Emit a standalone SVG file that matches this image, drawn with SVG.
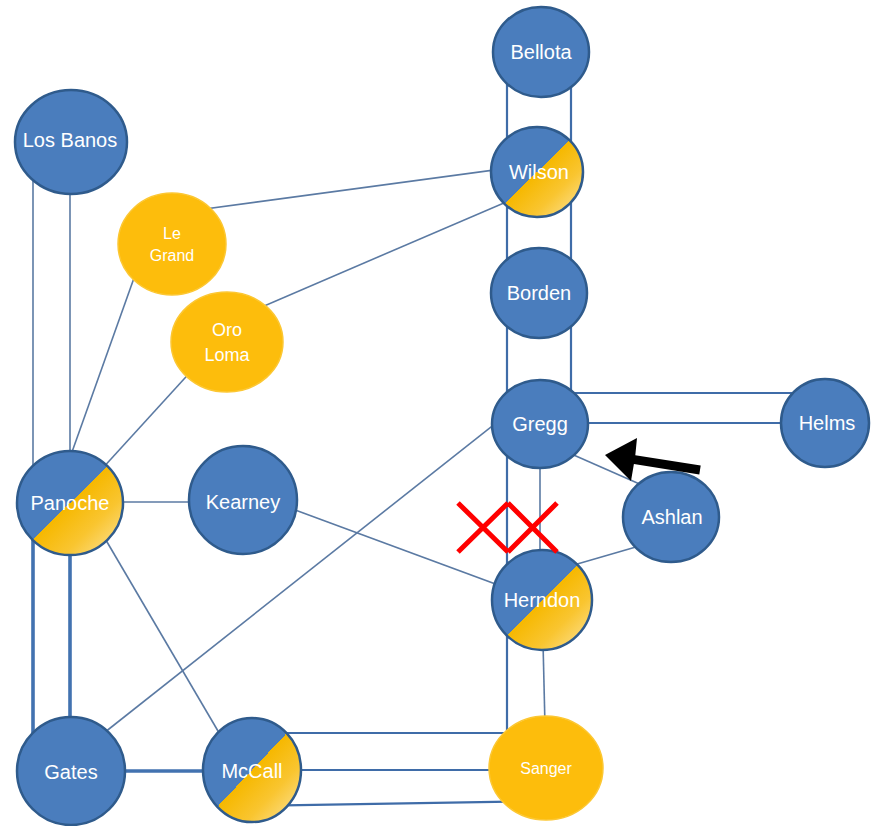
<svg xmlns="http://www.w3.org/2000/svg" width="871" height="826" viewBox="0 0 871 826">
  <style>
    .bg { fill: #ffffff; }
    .edge { fill: none; stroke: #5b7aa3; stroke-width: 1.6; }
    .rail { fill: none; stroke: #3f6ca8; stroke-width: 2.2; }
    .trunk { fill: none; stroke: #4272b0; stroke-width: 3.6; }
    .blue { fill: #4a7dbd; stroke: #2f5b8c; stroke-width: 2.5; }
    .split { fill: url(#half); stroke: #2f5b8c; stroke-width: 2.5; }
    .gold { fill: #fdbd0c; stroke: #fcc733; stroke-width: 1.5; }
    .lbl { fill: #ffffff; font-family: "Liberation Sans", Arial, sans-serif; font-size: 20px; text-anchor: middle; }
    .sm { font-size: 16px; }
    .md { font-size: 18px; }
    .cross { fill: none; stroke: #ff0000; stroke-width: 5; stroke-linecap: butt; }
  </style>
  <defs>
    <!-- blue upper-left half, yellow lower-right half -->
    <linearGradient id="half" x1="0" y1="0" x2="1" y2="1">
      <stop offset="0" stop-color="#4a7dbd"/>
      <stop offset="0.5" stop-color="#4a7dbd"/>
      <stop offset="0.5" stop-color="#f6b800"/>
      <stop offset="0.72" stop-color="#f9c530"/>
      <stop offset="1" stop-color="#fde6a2"/>
    </linearGradient>
  </defs>

  <rect class="bg" x="0" y="0" width="871" height="826"/>

  <g id="connectors">
    <!-- long rails along the eastern column -->
    <polyline class="rail" points="507,52 507,733 252,733"/>
    <polyline class="rail" points="571,52 571,393 825,393"/>
    <!-- heavy trunks on the west side -->
    <line class="trunk" x1="33" y1="503" x2="33" y2="771"/>
    <line class="trunk" x1="70" y1="503" x2="70" y2="771"/>
    <line class="trunk" x1="71" y1="771" x2="252" y2="771"/>
    <!-- Los Banos - Panoche -->
    <line class="edge" x1="33" y1="142" x2="33" y2="503"/>
    <line class="edge" x1="70" y1="142" x2="70" y2="503"/>
    <!-- Panoche links -->
    <line class="edge" x1="144" y1="250" x2="62" y2="480"/>
    <line class="edge" x1="90" y1="482" x2="205" y2="356"/>
    <line class="edge" x1="70" y1="502" x2="243" y2="502"/>
    <line class="edge" x1="100" y1="530" x2="235" y2="760"/>
    <!-- Wilson links -->
    <line class="edge" x1="190" y1="211" x2="520" y2="166.5"/>
    <line class="edge" x1="250" y1="312" x2="520" y2="196"/>
    <!-- Kearney - Herndon -->
    <line class="edge" x1="260" y1="497" x2="520" y2="593"/>
    <!-- Gates - Gregg -->
    <line class="edge" x1="90" y1="744" x2="520" y2="404"/>
    <!-- Gregg links -->
    <line class="rail" x1="540" y1="423" x2="825" y2="423"/>
    <line class="edge" x1="540" y1="424" x2="540" y2="600"/>
    <line class="edge" x1="560" y1="449" x2="660" y2="493"/>
    <!-- Ashlan - Herndon -->
    <line class="edge" x1="560" y1="569" x2="660" y2="540"/>
    <!-- Herndon - Sanger -->
    <line class="edge" x1="542" y1="600" x2="546" y2="768"/>
    <!-- McCall - Sanger -->
    <line class="rail" x1="252" y1="770" x2="546" y2="770"/>
    <line class="rail" x1="252" y1="806" x2="546" y2="801"/>
  </g>

  <g id="bellota"><ellipse class="blue" cx="541" cy="52" rx="48" ry="45"/><text class="lbl" x="541" y="59">Bellota</text></g>
  <g id="wilson"><ellipse class="split" cx="537" cy="172" rx="46" ry="45"/><text class="lbl" x="539" y="179">Wilson</text></g>
  <g id="borden"><ellipse class="blue" cx="539" cy="293" rx="48" ry="45"/><text class="lbl" x="539" y="300">Borden</text></g>
  <g id="gregg"><ellipse class="blue" cx="540" cy="424" rx="48" ry="44"/><text class="lbl" x="540" y="431">Gregg</text></g>
  <g id="helms"><ellipse class="blue" cx="825" cy="423" rx="44" ry="44"/><text class="lbl" x="827" y="430">Helms</text></g>
  <g id="ashlan"><ellipse class="blue" cx="671" cy="517" rx="48" ry="45"/><text class="lbl" x="672" y="524">Ashlan</text></g>
  <g id="herndon"><ellipse class="split" cx="542" cy="600" rx="50" ry="50"/><text class="lbl" x="542" y="607">Herndon</text></g>
  <g id="sanger"><ellipse class="gold" cx="546" cy="768" rx="57" ry="52"/><text class="lbl sm" x="546" y="774">Sanger</text></g>
  <g id="mccall"><ellipse class="split" cx="252" cy="770" rx="49" ry="52"/><text class="lbl" x="252" y="778">McCall</text></g>
  <g id="gates"><ellipse class="blue" cx="71" cy="771" rx="54" ry="54"/><text class="lbl" x="71" y="779">Gates</text></g>
  <g id="panoche"><ellipse class="split" cx="70" cy="503" rx="53" ry="52"/><text class="lbl" x="70" y="510">Panoche</text></g>
  <g id="kearney"><ellipse class="blue" cx="243" cy="500" rx="54" ry="54"/><text class="lbl" x="243" y="509">Kearney</text></g>
  <g id="los-banos"><ellipse class="blue" cx="71" cy="142" rx="56" ry="52"/><text class="lbl" x="70" y="147">Los Banos</text></g>
  <g id="le-grand"><ellipse class="gold" cx="172" cy="244" rx="54" ry="51"/><text class="lbl sm" x="172" y="239">Le</text><text class="lbl sm" x="172" y="261">Grand</text></g>
  <g id="oro-loma"><ellipse class="gold" cx="227" cy="342" rx="56" ry="50"/><text class="lbl md" x="227" y="336">Oro</text><text class="lbl md" x="227" y="361">Loma</text></g>

  <!-- cut marks on the Gregg - Herndon links -->
  <g id="cuts">
    <path class="cross" d="M458,503 L508,552 M458,552 L508,503 M508,503 L557,552 M508,552 L557,503"/>
  </g>

  <!-- pointer toward Gregg -->
  <g id="pointer">
    <polygon fill="#000000" points="605,455 637,438 635.3,455.3 700.7,465.6 699.3,474.4 633.9,464.1 631,481"/>
  </g>
</svg>
